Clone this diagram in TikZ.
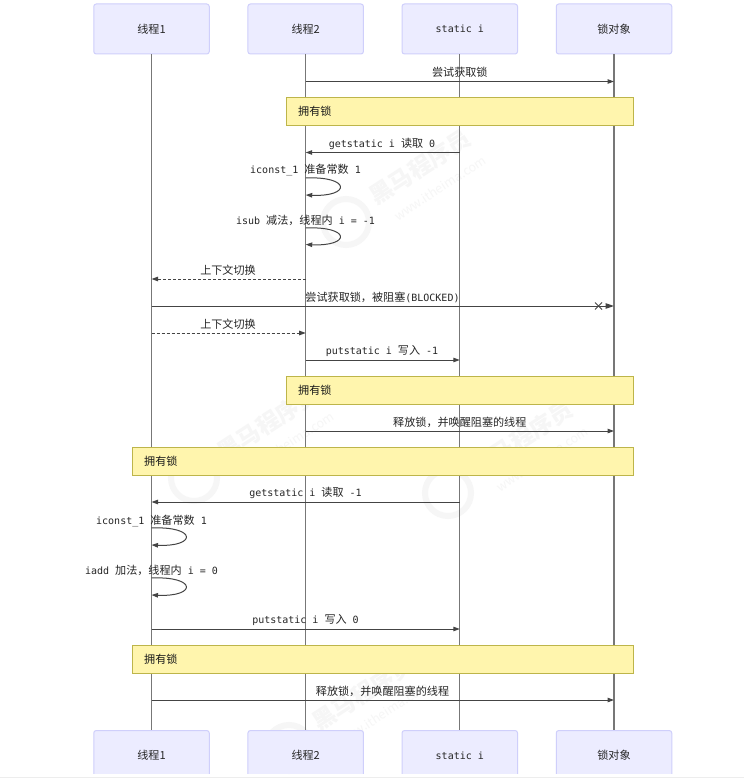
\documentclass[tikz,border=0pt]{standalone}
\usepackage{fontspec}
\setmainfont{DejaVu Sans Mono}
\newfontfamily\cn{Noto Sans CJK SC}
\usetikzlibrary{arrows.meta}
\definecolor{actfill}{HTML}{ECECFF}
\definecolor{actline}{HTML}{CFCFFB}
\definecolor{notefill}{HTML}{FFF5AD}
\definecolor{noteline}{HTML}{BDB54A}
\definecolor{lifeline}{HTML}{777777}
\definecolor{msgline}{HTML}{444444}
\definecolor{wm}{HTML}{F6F6F6}
\newcommand{\C}[1]{{\cn\fontsize{11.1}{12}\selectfont #1}}
\tikzset{
 actor/.style={draw=actline,fill=actfill,rounded corners=2.5pt,minimum width=115.5pt,minimum height=50pt,inner sep=0pt,line width=1pt,font=\fontsize{10}{12}\selectfont,text=black!85},
 life/.style={draw=lifeline,line width=1.1pt},
 note/.style={draw=noteline,fill=notefill,line width=1pt,inner sep=0pt},
 notetxt/.style={font=\fontsize{10}{12}\selectfont,text=black!90,inner sep=0pt},
 msg/.style={draw=msgline,line width=1pt,-{Triangle[length=6.5pt,width=4.5pt]}},
 bigmsg/.style={draw=msgline,line width=1pt,-{Triangle[length=8.5pt,width=5.5pt]}},
 dmsg/.style={msg,dash pattern=on 3pt off 2pt},
 cross/.style={draw=msgline,line width=0.9pt},
 lbl/.style={font=\fontsize{10}{12}\selectfont,text=black!85,inner sep=0pt},
 wmtxt/.style={text=wm,inner sep=0pt,rotate=33,font=\cn\bfseries\fontsize{23}{24}\selectfont},
 wmsub/.style={text=wm,inner sep=0pt,rotate=33,font=\cn\fontsize{12.5}{14}\selectfont},
 wmring/.style={draw=wm,line width=6pt},
}
\newcommand{\wmark}[2]{%
 \draw[wmring] (#1-74,#2+55) circle[radius=23];
 \node[wmtxt] at (#1,#2) {黑马程序员};
 \node[wmsub] at (#1+20,#2+21) {www.itheima.com};
}
\begin{document}
\begin{tikzpicture}[x=1pt,y=-1pt]
\useasboundingbox (0,0) rectangle (744,778);
\fill[white] (0,0) rectangle (744,778);
\fill[black!7] (0,777) rectangle (744,778);
\wmark{420}{167}
\wmark{268}{423}
\wmark{522}{438}
\wmark{363}{693}
% top actors
\node[actor] (a1) at (151.5,29) {\C{线程1}};
\node[actor] (a2) at (305.7,29) {\C{线程2}};
\node[actor] (a3) at (459.8,29) {static i};
\node[actor] (a4) at (614,29) {\C{锁对象}};
% bottom actors (cut off by the page edge of the source)
\begin{scope}
\clip (0,700) rectangle (744,773);
\node[actor] (b1) at (151.5,755.5) {\C{线程1}};
\node[actor] (b2) at (305.7,755.5) {\C{线程2}};
\node[actor] (b3) at (459.8,755.5) {static i};
\node[actor] (b4) at (614,755.5) {\C{锁对象}};
\end{scope}
% lifelines
\draw[life] (a1) -- (b1);
\draw[life] (a2) -- (b2);
\draw[life] (a3) -- (b3);
\draw[life] (a4) -- (b4);
% named anchors on lifelines
\foreach \n/\y in {1/81.5,2/152.5,3/195,4/244.5,5/279,6/306,7/333,8/360,9/431,10/502,11/545,12/595,13/629,14/700}{
 \coordinate (p\n) at (151.5,\y);
 \coordinate (q\n) at (305.7,\y);
 \coordinate (r\n) at (459.8,\y);
 \coordinate (s\n) at (614,\y);
}
% notes
\node[note,minimum width=347pt,minimum height=28.5pt,anchor=north west] (n1) at (285.7,96.8) {};
\node[notetxt,anchor=west] at (298,111) {\C{拥有锁}};
\node[note,minimum width=347pt,minimum height=28.5pt,anchor=north west] (n2) at (285.7,375.8) {};
\node[notetxt,anchor=west] at (298,390) {\C{拥有锁}};
\node[note,minimum width=501pt,minimum height=28.5pt,anchor=north west] (n3) at (131.7,446.6) {};
\node[notetxt,anchor=west] at (144,461) {\C{拥有锁}};
\node[note,minimum width=501pt,minimum height=28.5pt,anchor=north west] (n4) at (131.7,644.8) {};
\node[notetxt,anchor=west] at (144,659) {\C{拥有锁}};
% messages
\draw[msg] (q1) -- (s1);
\node[lbl] at (459.8,72) {\C{尝试获取锁}};
\draw[msg] (r2) -- (q2);
\node[lbl] at (382,143.5) {getstatic i \C{读取} 0};
\draw[msg] (305.7,178) .. controls (351,176) and (351,197) .. (q3);
\node[lbl] at (305.5,170.5) {iconst\_1 \C{准备常数} 1};
\draw[msg] (305.7,228) .. controls (351,226) and (351,246.5) .. (q4);
\node[lbl] at (305.5,220.5) {isub \C{减法，线程内} i = -1};
\draw[dmsg] (q5) -- (p5);
\node[lbl] at (228,270) {\C{上下文切换}};
\draw[bigmsg] (p6) -- (s6);
\node[lbl] at (382.5,297) {\C{尝试获取锁，被阻塞}(BLOCKED)};
\coordinate (xc) at (598.5,306);
\draw[cross] ([shift={(-3.5,-3.5)}]xc) -- ([shift={(3.5,3.5)}]xc);
\draw[cross] ([shift={(-3.5,3.5)}]xc) -- ([shift={(3.5,-3.5)}]xc);
\draw[dmsg] (p7) -- (q7);
\node[lbl] at (228,324) {\C{上下文切换}};
\draw[msg] (q8) -- (r8);
\node[lbl] at (382,351) {putstatic i \C{写入} -1};
\draw[msg] (q9) -- (s9);
\node[lbl] at (459.8,422) {\C{释放锁，并唤醒阻塞的线程}};
\draw[msg] (r10) -- (p10);
\node[lbl] at (305.5,493) {getstatic i \C{读取} -1};
\draw[msg] (151.5,528) .. controls (197,526) and (197,547) .. (p11);
\node[lbl] at (151.5,520.5) {iconst\_1 \C{准备常数} 1};
\draw[msg] (151.5,578) .. controls (197,576) and (197,597) .. (p12);
\node[lbl] at (151.5,570.5) {iadd \C{加法，线程内} i = 0};
\draw[msg] (p13) -- (r13);
\node[lbl] at (305.5,620) {putstatic i \C{写入} 0};
\draw[msg] (p14) -- (s14);
\node[lbl] at (382.5,691) {\C{释放锁，并唤醒阻塞的线程}};
\end{tikzpicture}
\end{document}
